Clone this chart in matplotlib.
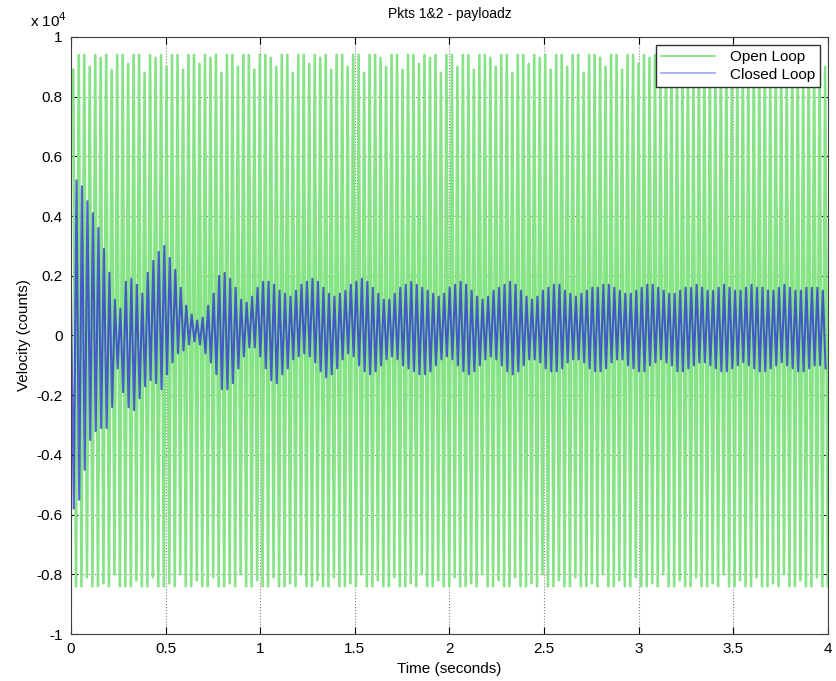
import numpy as np
import matplotlib
matplotlib.use("Agg")
import matplotlib.pyplot as plt

plt.rcParams['font.family'] = ['Liberation Sans', 'DejaVu Sans']

# One oscillation cycle, seconds (read from the spacing of the peaks)
cycle_period = 0.029

# Open loop: peak / trough of every cycle, in units of 10^4 counts
open_peak = [
    0.89, 0.94, 0.94, 0.90, 0.94, 0.93, 0.94, 0.89, 0.94, 0.94,
    0.91, 0.94, 0.94, 0.88, 0.94, 0.93, 0.94, 0.90, 0.94, 0.94,
    0.89, 0.94, 0.94, 0.91, 0.94, 0.93, 0.94, 0.88, 0.94, 0.94,
    0.90, 0.94, 0.94, 0.89, 0.94, 0.94, 0.93, 0.90, 0.94, 0.94,
    0.88, 0.94, 0.94, 0.91, 0.94, 0.93, 0.94, 0.89, 0.94, 0.94,
    0.90, 0.94, 0.94, 0.88, 0.94, 0.94, 0.93, 0.90, 0.94, 0.94,
    0.89, 0.94, 0.94, 0.91, 0.94, 0.93, 0.94, 0.88, 0.94, 0.94,
    0.90, 0.94, 0.94, 0.89, 0.94, 0.94, 0.93, 0.90, 0.94, 0.94,
    0.88, 0.94, 0.94, 0.91, 0.94, 0.93, 0.94, 0.89, 0.94, 0.94,
    0.90, 0.94, 0.94, 0.88, 0.94, 0.94, 0.93, 0.90, 0.94, 0.94,
    0.89, 0.94, 0.94, 0.91, 0.94, 0.93, 0.94, 0.88, 0.94, 0.94,
    0.90, 0.94, 0.94, 0.89, 0.94, 0.94, 0.93, 0.90, 0.94, 0.94,
    0.88, 0.94, 0.94, 0.91, 0.94, 0.93, 0.94, 0.89, 0.94, 0.94,
    0.90, 0.94, 0.94, 0.88, 0.94, 0.94, 0.93, 0.90,
]
open_trough = [
    -0.84, -0.84, -0.81, -0.84, -0.84, -0.83, -0.84, -0.80, -0.84, -0.84,
    -0.84, -0.82, -0.84, -0.84, -0.81, -0.84, -0.84, -0.83, -0.84, -0.80,
    -0.84, -0.84, -0.82, -0.84, -0.84, -0.81, -0.84, -0.84, -0.83, -0.84,
    -0.80, -0.84, -0.84, -0.82, -0.84, -0.84, -0.81, -0.84, -0.84, -0.83,
    -0.84, -0.80, -0.84, -0.84, -0.82, -0.84, -0.84, -0.81, -0.84, -0.84,
    -0.83, -0.84, -0.80, -0.84, -0.84, -0.82, -0.84, -0.84, -0.81, -0.84,
    -0.84, -0.83, -0.84, -0.80, -0.84, -0.84, -0.82, -0.84, -0.84, -0.81,
    -0.84, -0.84, -0.83, -0.84, -0.80, -0.84, -0.84, -0.82, -0.84, -0.84,
    -0.81, -0.84, -0.84, -0.83, -0.84, -0.80, -0.84, -0.84, -0.82, -0.84,
    -0.84, -0.81, -0.84, -0.84, -0.83, -0.84, -0.80, -0.84, -0.84, -0.82,
    -0.84, -0.84, -0.81, -0.84, -0.84, -0.83, -0.84, -0.80, -0.84, -0.84,
    -0.82, -0.84, -0.84, -0.81, -0.84, -0.84, -0.83, -0.84, -0.80, -0.84,
    -0.84, -0.82, -0.84, -0.84, -0.81, -0.84, -0.84, -0.83, -0.84, -0.80,
    -0.84, -0.84, -0.82, -0.84, -0.84, -0.81, -0.84, -0.84,
]

# Closed loop: peak / trough of every cycle, in units of 10^4 counts
closed_peak = [
    0.16, 0.52, 0.50, 0.45, 0.41, 0.36, 0.29, 0.21, 0.12, 0.09,
    0.18, 0.19, 0.17, 0.14, 0.21, 0.25, 0.28, 0.30, 0.26, 0.22,
    0.16, 0.10, 0.07, 0.05, 0.06, 0.10, 0.14, 0.20, 0.21, 0.19,
    0.16, 0.12, 0.11, 0.13, 0.16, 0.18, 0.18, 0.17, 0.15, 0.14,
    0.13, 0.15, 0.17, 0.18, 0.19, 0.18, 0.16, 0.14, 0.13, 0.14,
    0.15, 0.17, 0.18, 0.19, 0.18, 0.16, 0.14, 0.12, 0.12, 0.14,
    0.16, 0.17, 0.18, 0.17, 0.16, 0.15, 0.14, 0.13, 0.14, 0.16,
    0.17, 0.18, 0.17, 0.15, 0.13, 0.12, 0.13, 0.15, 0.16, 0.17,
    0.18, 0.17, 0.15, 0.13, 0.12, 0.13, 0.15, 0.16, 0.17, 0.17,
    0.15, 0.14, 0.13, 0.14, 0.15, 0.16, 0.16, 0.17, 0.17, 0.16,
    0.15, 0.14, 0.14, 0.15, 0.16, 0.17, 0.17, 0.16, 0.15, 0.14,
    0.14, 0.15, 0.16, 0.16, 0.17, 0.16, 0.15, 0.15, 0.16, 0.17,
    0.16, 0.15, 0.15, 0.16, 0.17, 0.16, 0.16, 0.15, 0.15, 0.16,
    0.17, 0.16, 0.15, 0.15, 0.16, 0.16, 0.16, 0.15,
]
closed_trough = [
    -0.58, -0.55, -0.45, -0.35, -0.32, -0.31, -0.31, -0.24, -0.11, -0.19,
    -0.24, -0.25, -0.21, -0.17, -0.15, -0.16, -0.18, -0.13, -0.09, -0.06,
    -0.05, -0.03, -0.02, -0.03, -0.06, -0.09, -0.13, -0.18, -0.18, -0.16,
    -0.11, -0.07, -0.04, -0.04, -0.07, -0.11, -0.15, -0.16, -0.13, -0.11,
    -0.08, -0.07, -0.06, -0.07, -0.09, -0.12, -0.14, -0.13, -0.11, -0.08,
    -0.06, -0.07, -0.10, -0.12, -0.13, -0.12, -0.10, -0.08, -0.07, -0.08,
    -0.10, -0.11, -0.12, -0.13, -0.13, -0.12, -0.10, -0.08, -0.07, -0.08,
    -0.10, -0.12, -0.13, -0.12, -0.10, -0.08, -0.07, -0.08, -0.10, -0.12,
    -0.13, -0.12, -0.10, -0.08, -0.08, -0.09, -0.11, -0.12, -0.12, -0.11,
    -0.09, -0.08, -0.08, -0.09, -0.11, -0.12, -0.12, -0.11, -0.09, -0.08,
    -0.08, -0.10, -0.11, -0.12, -0.12, -0.10, -0.09, -0.08, -0.09, -0.10,
    -0.12, -0.12, -0.11, -0.10, -0.09, -0.09, -0.10, -0.11, -0.12, -0.12,
    -0.11, -0.10, -0.09, -0.10, -0.11, -0.12, -0.12, -0.11, -0.10, -0.09,
    -0.10, -0.11, -0.12, -0.12, -0.11, -0.10, -0.10, -0.11,
]

x_ticks = [0, 0.5, 1, 1.5, 2, 2.5, 3, 3.5, 4]
y_ticks = [-1, -0.8, -0.6, -0.4, -0.2, 0, 0.2, 0.4, 0.6, 0.8, 1]


def trace(peaks, troughs, shift):
    # interleave peak, trough, peak ... one cycle apart
    n = len(peaks)
    t = np.empty(2 * n)
    v = np.empty(2 * n)
    t[0::2] = np.arange(n) * cycle_period + shift
    t[1::2] = t[0::2] + cycle_period / 2
    v[0::2] = peaks
    v[1::2] = troughs
    return t, v


t_open, v_open = trace(open_peak, open_trough, 0.012)
t_closed, v_closed = trace(closed_peak, closed_trough, 0.0)

fig = plt.figure(figsize=(8.37, 6.81), dpi=100)
ax = fig.add_axes([0.0848, 0.069, 0.9044, 0.8767])

ax.plot(t_open, v_open, color='#86e486', lw=1.9, label='Open Loop')
ax.plot(t_closed, v_closed, color='#2a2ad8', lw=1.5, alpha=0.75, label='Closed Loop')

ax.set_xlim(0, 4)
ax.set_ylim(-1, 1)
ax.set_xticks(x_ticks)
ax.set_yticks(y_ticks)
ax.set_xticklabels(['%g' % v for v in x_ticks])
ax.set_yticklabels(['%g' % v for v in y_ticks])
ax.tick_params(direction='in', top=True, right=True, labelsize=11, length=5, pad=6)
ax.grid(True, color='#808080', linestyle=':', linewidth=0.8)
for s in ax.spines.values():
    s.set_color('#404040')

ax.set_title('Pkts 1&2 - payloadz', fontsize=10, pad=14)
ax.set_xlabel('Time (seconds)', fontsize=11, labelpad=4)
ax.set_ylabel('Velocity (counts)', fontsize=11, labelpad=4)
ax.text(-0.005, 1.012, 'x 10$^4$', transform=ax.transAxes, fontsize=11,
        ha='right', va='bottom')

leg = ax.legend(loc='upper right', fontsize=11, fancybox=False, framealpha=1,
                edgecolor='#303030', handlelength=3.5, borderaxespad=0.5,
                borderpad=0.35, labelspacing=0.25, handletextpad=1.0)
leg.get_lines()[0].set_color('#80e080')
leg.get_lines()[0].set_linewidth(1.2)
leg.get_lines()[1].set_color('#a0a0f0')
leg.get_lines()[1].set_linewidth(1.2)
leg.get_lines()[1].set_alpha(1)

fig.savefig('out.png', dpi=100)
